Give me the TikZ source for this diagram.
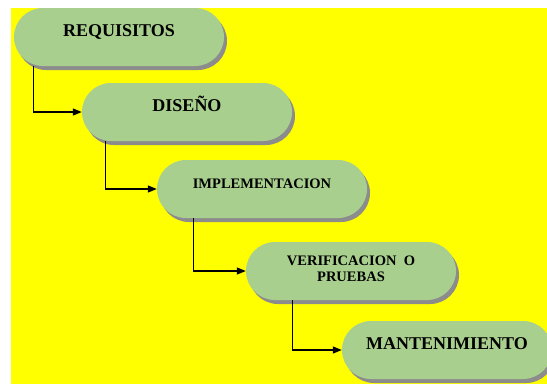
\documentclass[tikz,border=0pt]{standalone}
\usepackage{fontspec}
\setmainfont{Liberation Serif}
\usetikzlibrary{arrows.meta,shadows}
\definecolor{fondo}{RGB}{255,255,0}
\definecolor{verde}{RGB}{168,207,142}
\begin{document}
\begin{tikzpicture}[x=1pt,y=-1pt,
  etapa/.style={draw=none,fill=verde,rounded corners=29pt,minimum width=210pt,
    inner ysep=0pt,text height=28pt,text depth=30pt,align=center,font=\bfseries,
    drop shadow={shadow xshift=3pt,shadow yshift=-4pt,fill=gray!90,opacity=1}},
  grande/.style={font=\bfseries\fontsize{18}{20}\selectfont},
  chica/.style={font=\bfseries\fontsize{14.5}{16}\selectfont},
  flecha/.style={-{Triangle[length=9pt,width=7pt]},line width=1.2pt}]
  \useasboundingbox (0,0) rectangle (547,384);
  \fill[white] (0,0) rectangle (547,384);
  \fill[fondo] (11,8) rectangle (547,384);
  \node[etapa,grande] (req) at (119,37) {REQUISITOS};
  \node[etapa,grande] (dis) at (187,112) {DISEÑO};
  \node[etapa,chica] (imp) at (262,189) {IMPLEMENTACION};
  \node[etapa,chica,text height=39pt,text depth=19pt] (ver) at (351,271)
    {VERIFICACION~~O\\PRUEBAS};
  \node[etapa,grande] (man) at (447,350) {MANTENIMIENTO};
  \draw[flecha] ([xshift=20pt]req.south west) |- (dis.west);
  \draw[flecha] ([xshift=24pt]dis.south west) |- (imp.west);
  \draw[flecha] ([xshift=37pt]imp.south west) |- (ver.west);
  \draw[flecha] ([xshift=47pt]ver.south west) |- (man.west);
\end{tikzpicture}
\end{document}
